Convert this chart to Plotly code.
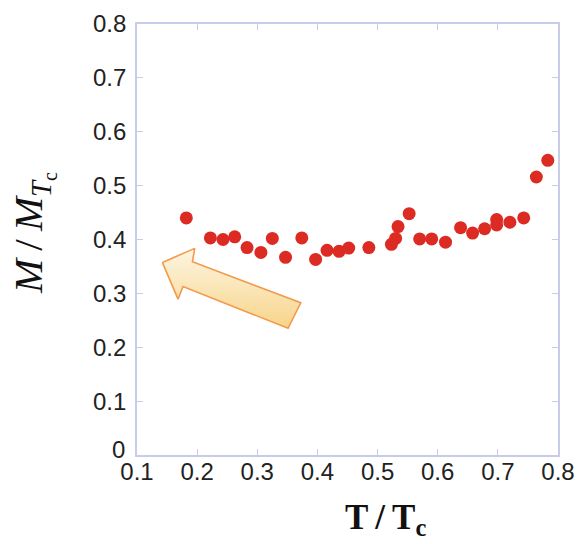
import plotly.graph_objects as go

# Data
t_ratio = [0.182, 0.222, 0.243, 0.2625, 0.283, 0.306, 0.325, 0.347, 0.374, 0.397,
           0.416, 0.436, 0.452, 0.4855, 0.523, 0.530, 0.534, 0.5525, 0.570, 0.590,
           0.613, 0.638, 0.658, 0.678, 0.698, 0.698, 0.720, 0.743, 0.764, 0.783]
m_ratio = [0.440, 0.403, 0.400, 0.405, 0.385, 0.376, 0.402, 0.367, 0.403, 0.363,
           0.380, 0.378, 0.384, 0.385, 0.391, 0.402, 0.424, 0.448, 0.401, 0.401,
           0.395, 0.422, 0.412, 0.420, 0.437, 0.427, 0.432, 0.440, 0.516, 0.547]

x_ticks = [0.1, 0.2, 0.3, 0.4, 0.5, 0.6, 0.7, 0.8]
y_ticks = [0.1, 0.2, 0.3, 0.4, 0.5, 0.6, 0.7, 0.8]

# Decorative arrow outline (data coordinates)
arrow_x = [0.1422, 0.196, 0.1922, 0.3723, 0.3512, 0.1765, 0.1682, 0.1422]
arrow_y = [0.3575, 0.3835, 0.3586, 0.2826, 0.2351, 0.3128, 0.2894, 0.3575]

AXIS = "#c9cbea"
TICKFONT = dict(family="Liberation Sans, Arial, sans-serif", size=24, color="#222222")

fig = go.Figure()
fig.add_trace(go.Scatter(
    x=arrow_x, y=arrow_y, mode="lines", fill="toself",
    line=dict(color="#f39a4c", width=1.6),
    fillgradient=dict(type="vertical", start=0.2351, stop=0.3835,
                      colorscale=[[0, "#f7d48a"], [1, "#fdf6e2"]]),
    hoverinfo="skip", showlegend=False))
fig.add_trace(go.Scatter(
    x=t_ratio, y=m_ratio, mode="markers",
    marker=dict(color="#dc2b23", size=13, line=dict(width=0)),
    showlegend=False))

fig.update_layout(
    width=577, height=544,
    margin=dict(l=137, r=19, t=24, b=89, autoexpand=False),
    paper_bgcolor="white", plot_bgcolor="white",
    font=TICKFONT,
    xaxis=dict(range=[0.1, 0.8], tickvals=x_ticks, ticktext=[str(v) for v in x_ticks],
               showgrid=False, zeroline=False, showline=True, linecolor=AXIS, linewidth=1.6,
               mirror="ticks", ticks="inside", ticklen=6, tickcolor=AXIS, tickwidth=1.2,
               ticklabelstandoff=-6, tickfont=TICKFONT, automargin=False),
    yaxis=dict(range=[0, 0.8], tickvals=y_ticks, ticktext=[str(v) for v in y_ticks],
               showgrid=False, zeroline=False, showline=True, linecolor=AXIS, linewidth=1.6,
               mirror="ticks", ticks="inside", ticklen=6, tickcolor=AXIS, tickwidth=1.2,
               ticklabelstandoff=4, tickfont=TICKFONT, automargin=False),
)

annotations = [
    dict(text="0", xref="paper", yref="paper", x=-0.024, y=0.012, xanchor="right",
         yanchor="middle", showarrow=False, font=TICKFONT),
    dict(text="<i>M</i>\u2009/\u2009<i>M</i><sub><i>T</i><sub>c</sub></sub>",
         xref="paper", yref="paper", x=-0.247, y=0.515, xanchor="center", yanchor="middle",
         textangle=-90, showarrow=False,
         font=dict(family="Liberation Serif, Times New Roman, serif", size=41, color="#111111")),
    dict(text="<b>T\u2009/\u2009T<sub>c</sub></b>",
         xref="paper", yref="paper", x=0.489, y=-0.095, xanchor="left", yanchor="top",
         showarrow=False,
         font=dict(family="Liberation Serif, Times New Roman, serif", size=35, color="#111111")),
]
fig.update_layout(annotations=annotations)

fig.write_html("out.html")
